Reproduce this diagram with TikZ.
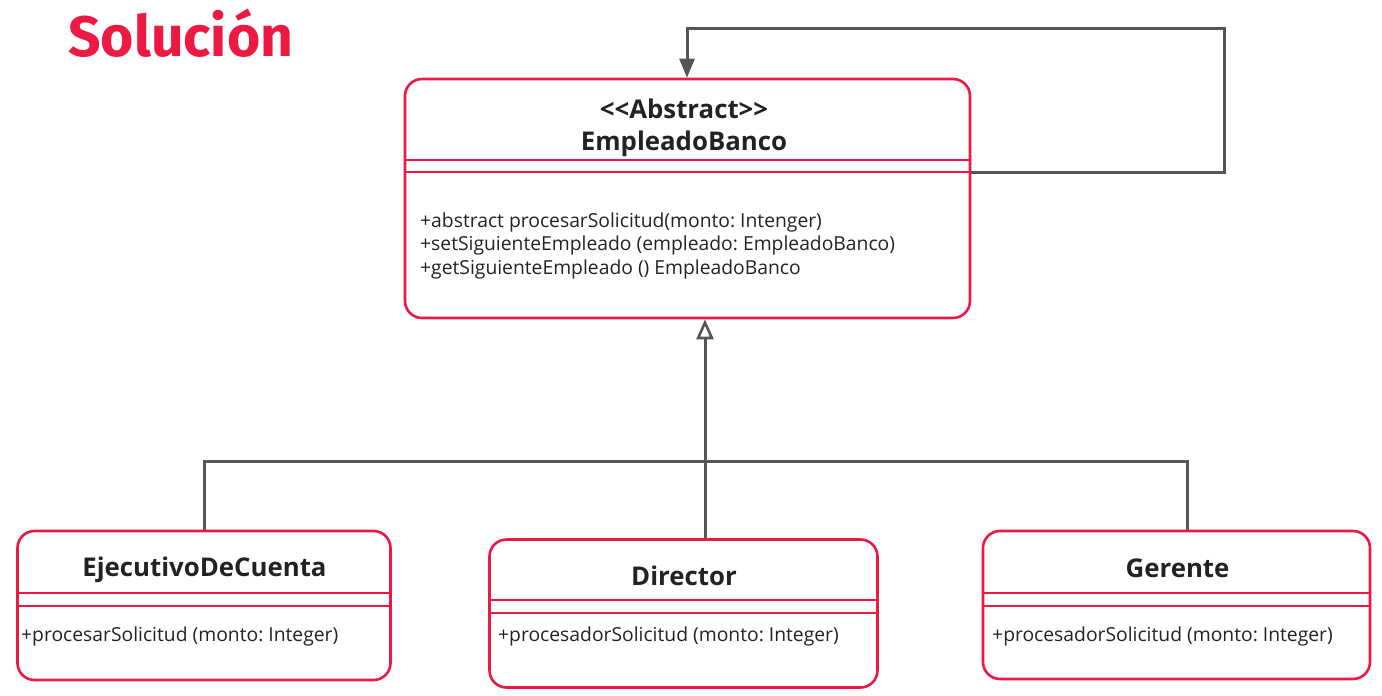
\documentclass[tikz,border=0pt]{standalone}
\usepackage{fontspec}
\setmainfont{Open Sans}
\newfontfamily\titlefont{Fira Sans}
\usepackage{xcolor}
\usetikzlibrary{arrows.meta, calc, positioning}
\definecolor{umlred}{RGB}{236,25,66}
\definecolor{umlgrey}{RGB}{85,85,85}
\definecolor{umltext}{RGB}{34,34,34}
\frenchspacing

\begin{document}
\begin{tikzpicture}[x=1pt, y=-1pt,
    classbox/.style={draw=umlred, line width=2.6pt, rounded corners=17pt, inner sep=0pt},
    divider/.style={draw=umlred, line width=1.6pt},
    classname/.style={font=\bfseries\fontsize{25.8}{32}\selectfont, text=umltext, inner sep=0pt, align=center},
    ops/.style={font=\fontsize{19.3}{23.5}\selectfont, text=umltext, inner sep=0pt, anchor=west},
    link/.style={draw=umlgrey, line width=3pt}]
\useasboundingbox (0,0) rectangle (1382,696);
\node[font=\titlefont\bfseries\fontsize{57}{60}\selectfont, text=umlred, anchor=west, inner sep=0pt] (titulo) at (68,33) {Solución};

\node[classbox, minimum width=565pt, minimum height=239pt] (banco) at (687.5,198.5) {};
\draw[divider] (banco.west |- 0,160) -- (banco.east |- 0,160);
\draw[divider] (banco.west |- 0,172) -- (banco.east |- 0,172);
\node[classname] (banconame) at (684,127.5) {{<}{<}Abstract{>}{>}\\EmpleadoBanco};
\node[ops] (bancoop1) at (420,222) {+abstract procesarSolicitud(monto: Intenger)};
\node[ops] (bancoop2) at (420,245.5) {+setSiguienteEmpleado (empleado: EmpleadoBanco)};
\node[ops] (bancoop3) at (420,269) {+getSiguienteEmpleado () EmpleadoBanco};

\node[classbox, minimum width=373pt, minimum height=149pt] (ejecutivo) at (204,605.5) {};
\draw[divider] (ejecutivo.west |- 0,593) -- (ejecutivo.east |- 0,593);
\draw[divider] (ejecutivo.west |- 0,606) -- (ejecutivo.east |- 0,606);
\node[classname] (ejecutivoname) at (204.5,569.5) {EjecutivoDeCuenta};
\node[ops] (ejecutivoop) at (21,636) {+procesarSolicitud (monto: Integer)};

\node[classbox, minimum width=388pt, minimum height=148pt] (director) at (683.5,613.5) {};
\draw[divider] (director.west |- 0,600) -- (director.east |- 0,600);
\draw[divider] (director.west |- 0,613) -- (director.east |- 0,613);
\node[classname] (directorname) at (684,576) {Director};
\node[ops] (directorop) at (498,636) {+procesadorSolicitud (monto: Integer)};

\node[classbox, minimum width=387pt, minimum height=148pt] (gerente) at (1176.5,605) {};
\draw[divider] (gerente.west |- 0,593) -- (gerente.east |- 0,593);
\draw[divider] (gerente.west |- 0,606) -- (gerente.east |- 0,606);
\node[classname] (gerentename) at (1177.5,568.5) {Gerente};
\node[ops] (gerenteop) at (992,636) {+procesadorSolicitud (monto: Integer)};

\coordinate (joinL) at (204,461);
\coordinate (joinM) at (705,461);
\coordinate (joinR) at (1187,461);
\coordinate (loopR) at (1224,28);
\coordinate (loopL) at (687,28);

\draw[link] (ejecutivo.north -| joinL) -- (joinL) -- (joinR) -- (gerente.north -| joinR);
\draw[link, -{Triangle[open, length=20pt, width=17pt, line width=2.6pt, fill=white]}] (director.north -| joinM) -- (banco.south -| joinM);
\draw[link, -{Triangle[length=19pt, width=15pt]}] (banco.east |- 0,172) -- (loopR |- 0,172) -- (loopR) -- (loopL) -- (banco.north -| loopL);
\end{tikzpicture}
\end{document}
